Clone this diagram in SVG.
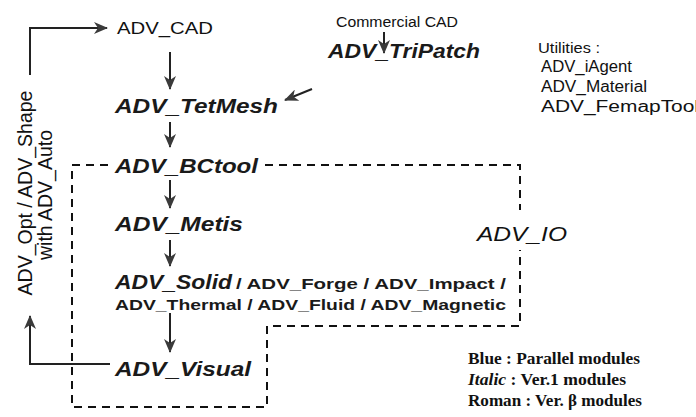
<svg xmlns="http://www.w3.org/2000/svg" width="696" height="417" viewBox="0 0 696 417">
<style>
.r{font-family:"Liberation Sans",Arial,sans-serif;fill:#111}
.bi{font-family:"Liberation Sans",Arial,sans-serif;font-weight:bold;font-style:italic;font-size:21px;fill:#1a1a1a}
.b{font-family:"Liberation Sans",Arial,sans-serif;font-weight:bold;font-size:14.5px;fill:#1a1a1a}
.lg{font-family:"Liberation Serif","Times New Roman",serif;font-weight:bold;font-size:17px;fill:#111}
.c{fill:none;stroke:#222;stroke-width:2}
.d{fill:none;stroke:#111;stroke-width:2;stroke-dasharray:8 6}
</style>
<defs>
<marker id="ah" viewBox="0 0 14 12" refX="13" refY="6" markerWidth="15" markerHeight="12" markerUnits="userSpaceOnUse" orient="auto">
<path d="M0,0 L14,6 L0,12 L4,6 Z" fill="#3a3a3a"/>
</marker>
</defs>
<rect width="696" height="417" fill="#fff"/>
<g id="connectors">
<path class="c" d="M30,75 V28 H107" marker-end="url(#ah)"/>
<path class="c" d="M170,52 V89" marker-end="url(#ah)"/>
<path class="c" d="M384,32 V53" marker-end="url(#ah)"/>
<path class="c" d="M312,89 L285,100" marker-end="url(#ah)"/>
<path class="c" d="M170,122 V147" marker-end="url(#ah)"/>
<path class="c" d="M170,180 V208" marker-end="url(#ah)"/>
<path class="c" d="M170,240 V266" marker-end="url(#ah)"/>
<path class="c" d="M170,313 V352" marker-end="url(#ah)"/>
<path class="c" d="M110,364 H30 V316" marker-end="url(#ah)"/>
</g>
<g id="adv_io_region">
<path class="d" d="M108,165 H72 V407 H267 V326 H520 V250"/>
<path class="d" d="M265,165 H520 V210"/>
<text class="r" x="477" y="241" font-size="20" font-style="italic" textLength="90" lengthAdjust="spacingAndGlyphs">ADV_IO</text>
</g>
<g id="loop_label">
<text class="r" font-size="19.5" text-anchor="middle" transform="translate(32,193) rotate(-90)">ADV_Opt / ADV_Shape</text>
<text class="r" font-size="19.5" text-anchor="middle" transform="translate(52,195) rotate(-90)">with ADV_Auto</text>
</g>
<g id="adv_cad"><text class="r" x="117" y="34" font-size="17" textLength="96" lengthAdjust="spacingAndGlyphs">ADV_CAD</text></g>
<g id="commercial_cad"><text class="r" x="336" y="27" font-size="15.5" textLength="122" lengthAdjust="spacingAndGlyphs">Commercial CAD</text></g>
<g id="adv_tripatch"><text class="bi" x="328" y="58" font-size="20" textLength="152" lengthAdjust="spacingAndGlyphs">ADV_TriPatch</text></g>
<g id="utilities">
<text class="r" x="538" y="53" font-size="15.5" textLength="62" lengthAdjust="spacingAndGlyphs">Utilities :</text>
<text class="r" x="541" y="72" font-size="16" textLength="91" lengthAdjust="spacingAndGlyphs">ADV_iAgent</text>
<text class="r" x="541" y="92" font-size="16" textLength="106" lengthAdjust="spacingAndGlyphs">ADV_Material</text>
<text class="r" x="541" y="112" font-size="16" textLength="158" lengthAdjust="spacingAndGlyphs">ADV_FemapTool</text>
</g>
<g id="adv_tetmesh"><text class="bi" x="115" y="113" textLength="163" lengthAdjust="spacingAndGlyphs">ADV_TetMesh</text></g>
<g id="adv_bctool"><text class="bi" x="115" y="173" textLength="143" lengthAdjust="spacingAndGlyphs">ADV_BCtool</text></g>
<g id="adv_metis"><text class="bi" x="115" y="231" textLength="128" lengthAdjust="spacingAndGlyphs">ADV_Metis</text></g>
<g id="adv_solvers">
<text class="bi" x="115" y="289" textLength="117" lengthAdjust="spacingAndGlyphs">ADV_Solid</text>
<text class="b" x="236" y="289" textLength="270" lengthAdjust="spacingAndGlyphs">/ ADV_Forge / ADV_Impact /</text>
<text class="b" x="115" y="310" textLength="391" lengthAdjust="spacingAndGlyphs">ADV_Thermal / ADV_Fluid / ADV_Magnetic</text>
</g>
<g id="adv_visual"><text class="bi" x="115" y="376" textLength="136" lengthAdjust="spacingAndGlyphs">ADV_Visual</text></g>
<g id="legend">
<text class="lg" x="468" y="364" textLength="172" lengthAdjust="spacingAndGlyphs">Blue : Parallel modules</text>
<text class="lg" x="468" y="385" textLength="158" lengthAdjust="spacingAndGlyphs"><tspan font-style="italic">Italic</tspan> : Ver.1 modules</text>
<text class="lg" x="468" y="406" textLength="174" lengthAdjust="spacingAndGlyphs">Roman : Ver. β modules</text>
</g>
</svg>
